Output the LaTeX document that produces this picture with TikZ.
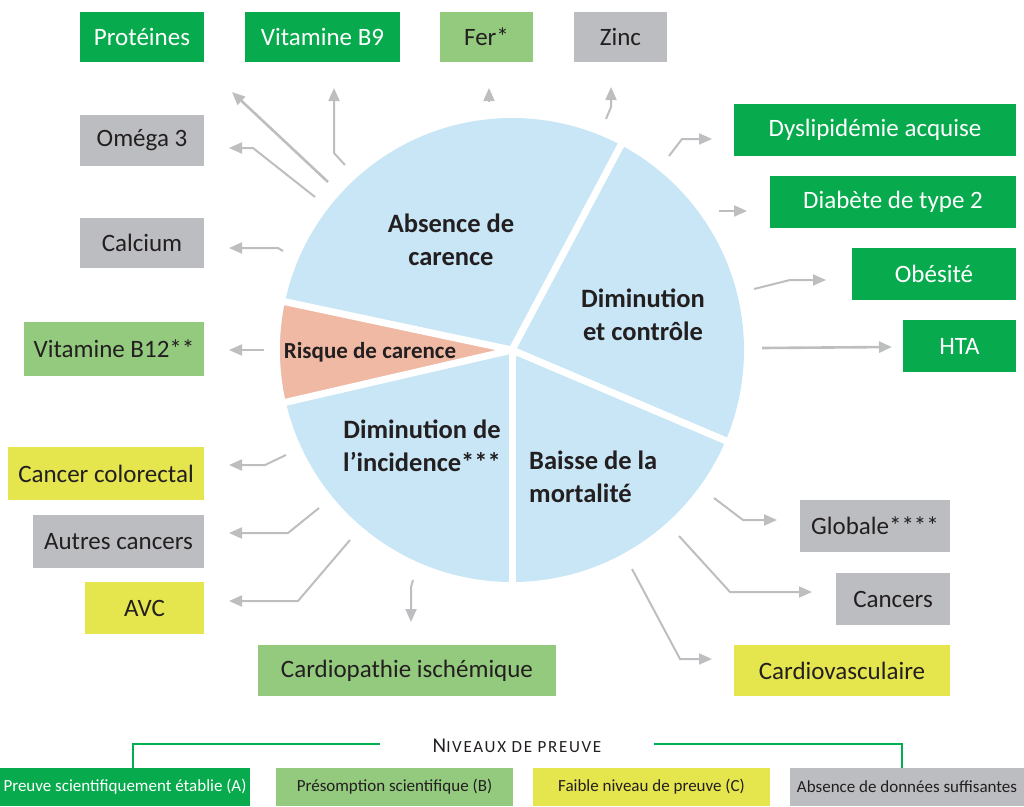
\documentclass[tikz,border=0pt]{standalone}
\usepackage{fontspec}
\setmainfont{Carlito}
\usetikzlibrary{arrows.meta}
\definecolor{dkgreen}{HTML}{07AA4D}
\definecolor{ltgreen}{HTML}{93CA7E}
\definecolor{ylw}{HTML}{E5E54E}
\definecolor{gry}{HTML}{BCBDC0}
\definecolor{arrgray}{HTML}{BCBEC0}
\definecolor{pieblue}{HTML}{C8E6F6}
\definecolor{salmon}{HTML}{F0B9A4}
\definecolor{txt}{HTML}{231F20}
\definecolor{lgline}{HTML}{00B050}
\tikzset{
  box/.style={inner sep=0pt, text=txt, font=\fontsize{25}{28}\selectfont},
  boxA/.style={box, fill=dkgreen, text=white},
  boxB/.style={box, fill=ltgreen},
  boxC/.style={box, fill=ylw},
  boxD/.style={box, fill=gry},
  lg/.style={inner sep=0pt, minimum height=38pt, font=\fontsize{17}{20}\selectfont, text=txt},
  arr/.style={draw=arrgray, line width=2pt, -{Triangle[length=13pt,width=11pt]}},
  pielabel/.style={font=\bfseries\fontsize{26.5}{32.5}\selectfont, text=txt, align=center, inner sep=0pt}
}
\begin{document}
\begin{tikzpicture}[x=1pt,y=1pt]
\useasboundingbox (0,0) rectangle (1024,-806);
% pie
\coordinate (C) at (512,-350);
\fill[pieblue] (C) circle[radius=232pt];
\fill[salmon] (C) -- ++(168:232pt) arc[start angle=168, end angle=193, radius=232pt] -- cycle;
\foreach \a in {62,168,193,270,337}
  \draw[white, line width=7pt] (C) -- ++(\a:240pt);
\node[pielabel] (absence) at (451,-240) {Absence de\\carence};
\node[pielabel] (dimctrl) at (643,-315) {Diminution\\et contrôle};
\node[pielabel, font=\bfseries\fontsize{23}{26}\selectfont] (risque) at (370,-352) {Risque de carence};
\node[pielabel] (incid) at (422,-446) {Diminution de\\l’incidence***};
\node[pielabel, align=left, anchor=west] (baisse) at (529,-477) {Baisse de la\\mortalité};
% top boxes
\node[boxA, minimum width=124pt, minimum height=50pt] (prot) at (142,-37) {Protéines};
\node[boxA, minimum width=155pt, minimum height=50pt] (b9) at (322.5,-37) {Vitamine B9};
\node[boxB, minimum width=93pt, minimum height=50pt] (fer) at (486.5,-37) {Fer*};
\node[boxD, minimum width=93pt, minimum height=50pt] (zinc) at (620.5,-37) {Zinc};
% left boxes
\node[boxD, minimum width=124pt, minimum height=51pt] (omega) at (142,-140.5) {Oméga 3};
\node[boxD, minimum width=124pt, minimum height=50pt] (calcium) at (142,-243) {Calcium};
\node[boxB, minimum width=180pt, minimum height=54pt] (b12) at (114,-349) {Vitamine B12**};
\node[boxC, minimum width=196pt, minimum height=53pt] (colo) at (106,-473.5) {Cancer colorectal};
\node[boxD, minimum width=171pt, minimum height=53pt] (autres) at (118.5,-541.5) {Autres cancers};
\node[boxC, minimum width=119pt, minimum height=52pt] (avc) at (144.5,-608) {AVC};
\node[boxB, minimum width=298pt, minimum height=51pt] (cardiop) at (407,-670.5) {Cardiopathie ischémique};
% right boxes
\node[boxA, minimum width=282pt, minimum height=52pt] (dyslip) at (875,-130) {Dyslipidémie acquise};
\node[boxA, minimum width=246pt, minimum height=52pt] (diab) at (893,-202) {Diabète de type 2};
\node[boxA, minimum width=164pt, minimum height=52pt] (obes) at (934,-274) {Obésité};
\node[boxA, minimum width=113pt, minimum height=52pt] (hta) at (959.5,-346) {HTA};
\node[boxD, minimum width=150pt, minimum height=52pt] (glob) at (875,-526) {Globale****};
\node[boxD, minimum width=114pt, minimum height=52pt] (cancers) at (893,-599) {Cancers};
\node[boxC, minimum width=216pt, minimum height=51pt] (cardiov) at (842,-670.5) {Cardiovasculaire};
% arrow coordinates
\coordinate (sProt) at (328,-182); \coordinate (tProt) at (232,-92);
\coordinate (sB9) at (345,-165); \coordinate (tB9) at (334,-88);
\coordinate (sFer) at (489,-102); \coordinate (tFer) at (489,-88);
\coordinate (sZinc) at (606,-119); \coordinate (tZinc) at (611,-87);
\coordinate (sOmega) at (315,-197); \coordinate (tOmega) at (229,-148);
\coordinate (sCalc) at (283,-251); \coordinate (tCalc) at (229,-248);
\coordinate (sB12) at (264,-350); \coordinate (tB12) at (229,-350);
\coordinate (sColo) at (286,-455); \coordinate (tColo) at (229,-465);
\coordinate (sAutres) at (319,-508); \coordinate (tAutres) at (229,-533);
\coordinate (sAvc) at (350,-540); \coordinate (tAvc) at (229,-601);
\coordinate (sCardiop) at (413,-580); \coordinate (tCardiop) at (411,-622);
\coordinate (sDys) at (669,-156); \coordinate (tDys) at (712,-139);
\coordinate (sDiab) at (719,-211); \coordinate (tDiab) at (747,-211);
\coordinate (sObes) at (754,-289); \coordinate (tObes) at (826,-280);
\coordinate (sHta) at (762,-348); \coordinate (tHta) at (892,-347);
\coordinate (sGlob) at (714,-498); \coordinate (tGlob) at (777,-520);
\coordinate (sCanc) at (679,-536); \coordinate (tCanc) at (812,-592);
\coordinate (sCv) at (632,-569); \coordinate (tCv) at (712,-659);
% arrows
\draw[arr, line width=2.6pt] (sProt) -- (tProt);
\draw[arr] (sB9) -- (334,-153) -- (tB9);
\draw[arr] (sFer) -- (tFer);
\draw[arr] (sZinc) -- (611,-107) -- (tZinc);
\draw[arr] (sOmega) -- (253,-148) -- (tOmega);
\draw[arr] (sCalc) -- (278,-248) -- (tCalc);
\draw[arr] (sB12) -- (tB12);
\draw[arr] (sColo) -- (265,-465) -- (tColo);
\draw[arr] (sAutres) -- (288,-533) -- (tAutres);
\draw[arr] (sAvc) -- (298,-601) -- (tAvc);
\draw[arr] (sCardiop) -- (411,-587) -- (tCardiop);
\draw[arr] (sDys) -- (682,-139) -- (tDys);
\draw[arr] (sDiab) -- (tDiab);
\draw[arr] (sObes) -- (790,-280) -- (tObes);
\draw[arr, line width=2.6pt] (sHta) -- (tHta);
\draw[arr] (sGlob) -- (743,-520) -- (tGlob);
\draw[arr] (sCanc) -- (730,-592) -- (tCanc);
\draw[arr] (sCv) -- (680,-659) -- (tCv);
% legend
\node[lg, fill=dkgreen, text=white, minimum width=250pt] (lA) at (125,-787) {Preuve scientifiquement établie (A)};
\node[lg, fill=ltgreen, minimum width=237pt] (lB) at (394.5,-787) {Présomption scientifique (B)};
\node[lg, fill=ylw, minimum width=237pt] (lC) at (651.5,-787) {Faible niveau de preuve (C)};
\node[lg, fill=gry, minimum width=234pt] (lD) at (907,-787) {Absence de données suffisantes};
\node[inner sep=0pt, text=txt] (title) at (517,-746) {\addfontfeature{LetterSpace=10}{\fontsize{21}{22}\selectfont N}{\fontsize{17}{22}\selectfont IVEAUX DE PREUVE}};
\coordinate (lLeft) at (380,-744);
\coordinate (lRight) at (654,-744);
\draw[lgline, line width=1.6pt] (lLeft) -- (133,-744) -- (lA.north -| 133,0);
\draw[lgline, line width=1.6pt] (lRight) -- (902,-744) -- (lD.north -| 902,0);
\end{tikzpicture}
\end{document}
